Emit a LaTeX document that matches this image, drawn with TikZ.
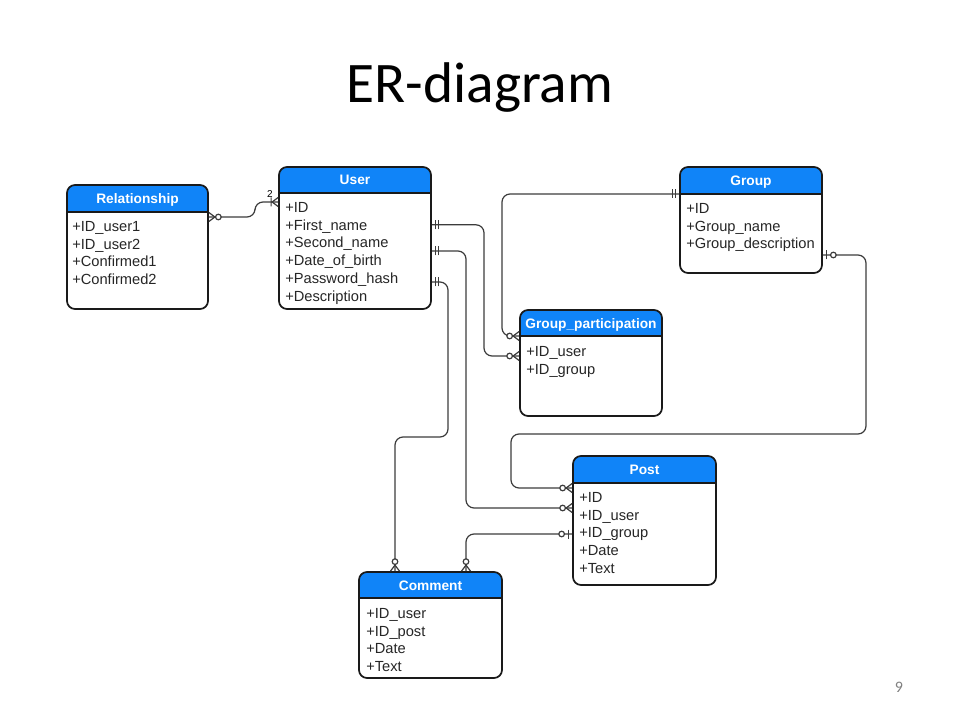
\documentclass[tikz,border=0pt]{standalone}
\usepackage{fontspec}
\setmainfont{Liberation Sans}
\newfontfamily\slidefont{Carlito}
\usetikzlibrary{fit}
\definecolor{hdrblue}{RGB}{16,132,248}
\definecolor{edgec}{RGB}{26,26,26}
\definecolor{linec}{RGB}{60,60,60}
\tikzset{
 entbox/.style={draw=edgec, line width=1.3pt, rounded corners=6pt, inner sep=0pt},
 sepline/.style={draw=edgec, line width=1pt},
 hdrtext/.style={text=white, font=\fontsize{10.3}{12}\selectfont\bfseries, inner sep=0pt, text height=7.5pt, text depth=0pt},
 rowtext/.style={text=black!85, font=\fontsize{11}{13}\selectfont, anchor=west, inner sep=0pt, text height=8pt, text depth=0pt},
 conn/.style={draw=linec, line width=0.9pt, rounded corners=6pt},
 sym/.style={draw=linec, line width=0.9pt},
 mone/.pic={\draw[sym] (-4,-4.5)--(-4,4.5) (-7,-4.5)--(-7,4.5);},
 zmany/.pic={\draw[sym] (-6,0)--(0,-4.5) (-6,0)--(0,4.5); \draw[sym,fill=white] (-9.5,0) circle (2.1pt);},
 omany/.pic={\draw[sym] (-6,0)--(0,-4.5) (-6,0)--(0,4.5) (-7,-4.5)--(-7,4.5);},
 zone/.pic={\draw[sym] (-4,-4.5)--(-4,4.5); \draw[sym,fill=white] (-10.5,0) circle (2.1pt);},
}
\newcommand\erent[7]{% name, x1,y1,x2,y2,yh,title
  \begin{scope}
    \clip[rounded corners=6pt] (#2,#3) rectangle (#4,#5);
    \fill[hdrblue] (#2,#3) rectangle (#4,#6);
  \end{scope}
  \node[entbox, fit={(#2,#3) (#4,#5)}] (#1) {};
  \draw[sepline] (#1.west |- 0,#6) -- (#1.east |- 0,#6);
  \node[hdrtext] (#1-h) at ({(#2+#4)/2},{(#3+#6)/2}) {#7};
}
\newcommand\errows[4]{% name, x, y0, list
  \foreach \t [count=\i] in {#4} \node[rowtext] (#1-\i) at (#2, {#3+(\i-1)*17.8}) {\t};
}
\begin{document}
\begin{tikzpicture}[x=0.75pt,y=-0.75pt]
\fill[white] (0,0) rectangle (960,720);
\useasboundingbox (0,0) rectangle (960,720);

\node[font=\slidefont\fontsize{43}{50}\selectfont, anchor=base] (title) at (480,103) {ER-diagram};
\node[font=\slidefont\fontsize{12}{14}\selectfont, text=gray] (pnum) at (899,687) {9};

% entities
\erent{rel}{67}{185}{208}{309}{212}{Relationship}
\errows{rel}{72}{226}{+ID\_user1,+ID\_user2,+Confirmed1,+Confirmed2}

\erent{user}{279}{167}{431}{309}{193}{User}
\errows{user}{285}{207}{+ID,+First\_name,+Second\_name,+Date\_of\_birth,+Password\_hash,+Description}

\erent{group}{680}{167}{822}{273}{194}{Group}
\errows{group}{686}{208}{+ID,+Group\_name,+Group\_description}

\erent{gp}{520}{310}{662}{416}{336}{Group\_participation}
\errows{gp}{526}{351}{+ID\_user,+ID\_group}

\erent{post}{573}{456}{716}{585}{483}{Post}
\errows{post}{579}{497}{+ID,+ID\_user,+ID\_group,+Date,+Text}

\erent{comment}{359}{572}{502}{678}{598}{Comment}
\errows{comment}{366}{613}{+ID\_user,+ID\_post,+Date,+Text}

% connectors
% Relationship - User
\draw[conn] (rel.east |- 0,217) -- (255,217) -- (255,202) -- (user.west |- 0,202);
\node[font=\fontsize{7.5}{9}\selectfont, inner sep=0pt] (lbl2) at (270,194) {2};
% User.First_name - Group_participation
\draw[conn] (user.east |- user-2) -- (484,224.8) -- (484,356) -- (gp.west |- 0,356);
% Group - Group_participation
\draw[conn] (group.west |- 0,194) -- (502,194) -- (502,336) -- (gp.west |- 0,336);
% User - Post
\draw[conn] (user.east |- 0,251) -- (466,251) -- (466,508) -- (post.west |- 0,508);
% User - Comment
\draw[conn] (user.east |- 0,282) -- (448,282) -- (448,437) -- (395,437) -- (comment.north -| 395,0);
% Group - Post
\draw[conn] (group.east |- 0,255) -- (866,255) -- (866,434) -- (511,434) -- (511,488) -- (post.west |- 0,488);
% Post - Comment
\draw[conn] (post.west |- 0,534) -- (466,534) -- (comment.north -| 466,0);

% end symbols
\pic[rotate=180] at (rel.east |- 0,217) {zmany};
\pic at (user.west |- 0,202) {omany};
\pic[rotate=180] at (user.east |- user-2) {mone};
\pic at (gp.west |- 0,356) {zmany};
\pic at (group.west |- 0,194) {mone};
\pic at (gp.west |- 0,336) {zmany};
\pic[rotate=180] at (user.east |- 0,251) {mone};
\pic at (post.west |- 0,508) {zmany};
\pic[rotate=180] at (user.east |- 0,282) {mone};
\pic[rotate=-90] at (comment.north -| 395,0) {zmany};
\pic[rotate=180] at (group.east |- 0,255) {zone};
\pic at (post.west |- 0,488) {zmany};
\pic at (post.west |- 0,534) {zone};
\pic[rotate=-90] at (comment.north -| 466,0) {zmany};
\end{tikzpicture}
\end{document}
